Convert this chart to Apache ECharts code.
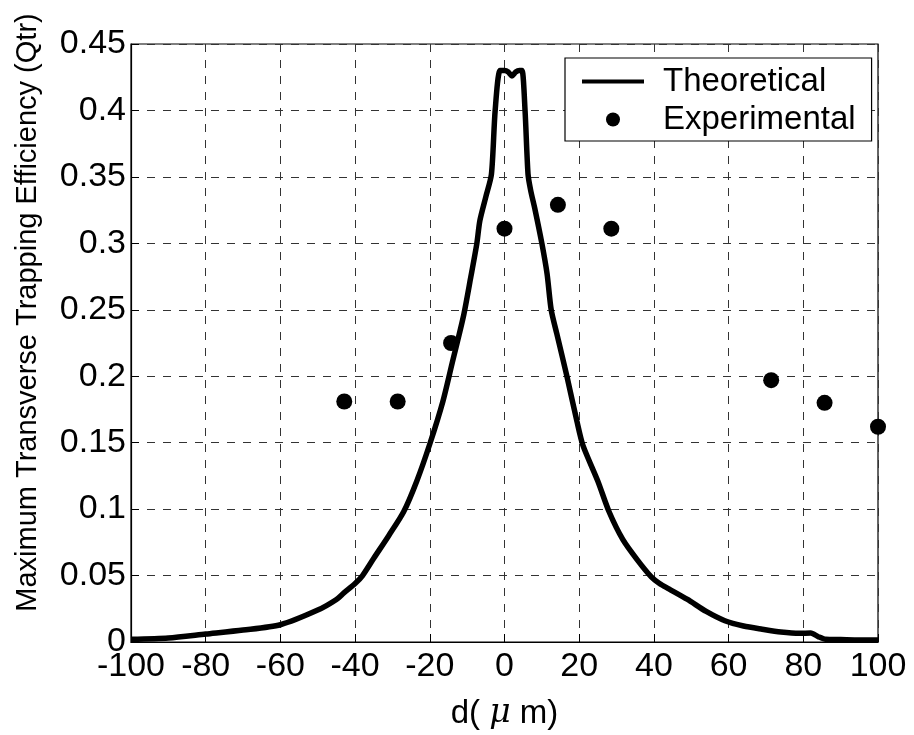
<!DOCTYPE html>
<html>
<head>
<meta charset="utf-8">
<script src="https://cdn.jsdelivr.net/npm/echarts@6/dist/echarts.min.js"></script>
<style>
  html, body { margin: 0; padding: 0; background: #fff; }
  #main { width: 914px; height: 735px; }
</style>
</head>
<body>
<div id="main"></div>
<script>
// theoretical curve
var theoX = [-100, -90, -80, -70, -60, -50, -45, -43, -40, -38, -35, -31, -27, -23.5, -20, -16.5, -14, -11, -9, -7.4, -6.6, -5, -3.5, -2.5, -1.2,
  0, 1, 2, 3, 4, 4.7, 5.5, 6.3, 7, 8.2, 10, 11.4, 12.5, 14, 16.7, 19.4, 21, 25, 28, 31.7, 35.5, 39.3, 41.5, 44, 49, 54, 59, 64, 69, 74, 79, 82, 84, 86, 90, 95, 100];
var theoY = [0.002, 0.003, 0.006, 0.009, 0.013, 0.024, 0.032, 0.037, 0.044, 0.05, 0.063, 0.08, 0.098, 0.121, 0.149, 0.181, 0.21, 0.245, 0.275, 0.3, 0.317, 0.335, 0.352, 0.4, 0.43,
  0.43, 0.429, 0.426, 0.429, 0.43, 0.43, 0.4, 0.352, 0.34, 0.325, 0.3, 0.277, 0.25, 0.232, 0.2, 0.166, 0.148, 0.121, 0.098, 0.077, 0.062, 0.049, 0.044, 0.04, 0.032, 0.023, 0.016, 0.012, 0.0096, 0.0075, 0.0065, 0.0068, 0.004, 0.002, 0.0018, 0.0015, 0.0015];

// experimental points
var expX = [-42.9, -28.6, -14.3, 0, 14.3, 28.6, 71.4, 85.7, 100];
var expY = [0.181, 0.181, 0.225, 0.311, 0.329, 0.311, 0.197, 0.180, 0.162];

var theoData = [];
for (var i = 0; i < theoX.length; i++) {
    theoData.push([theoX[i], theoY[i]]);
}
var expData = [];
for (var j = 0; j < expX.length; j++) {
    expData.push([expX[j], expY[j]]);
}

var FONT = '"Liberation Sans", Arial, sans-serif';
var oChart = echarts.init(document.getElementById('main'));

var opt = {
    backgroundColor: '#fff',
    animation: false,
    textStyle: { fontFamily: FONT },
    grid: {
        show: true,
        left: 131,
        right: 36,
        top: 44,
        bottom: 84,
        borderColor: '#000',
        borderWidth: 1.2
    },
    legend: {
        orient: 'vertical',
        left: 565,
        top: 58,
        padding: [7, 16, 5, 17],
        itemGap: 5,
        itemWidth: 62,
        itemHeight: 14,
        backgroundColor: '#fff',
        borderColor: '#000',
        borderWidth: 1.2,
        textStyle: { fontSize: 33, color: '#000', fontFamily: FONT, padding: [0, 0, 0, 14] },
        data: [
            { name: 'Theoretical', icon: 'path://M0,0 L62,0 L62,4 L0,4 Z' },
            { name: 'Experimental', icon: 'circle' }
        ]
    },
    xAxis: {
        type: 'value',
        min: -100,
        max: 100,
        interval: 20,
        name: 'd( {mu|μ} m)',
        nameLocation: 'middle',
        nameGap: 55,
        nameTextStyle: {
            fontSize: 33, color: '#000', fontFamily: FONT,
            rich: { mu: { fontSize: 33, fontStyle: 'italic', fontFamily: '"DejaVu Serif", serif', color: '#000' } }
        },
        axisLine: { onZero: false, lineStyle: { color: '#000', width: 1.2 } },
        axisTick: { inside: true, length: 8, lineStyle: { color: '#000' } },
        axisLabel: { fontSize: 34, color: '#000', margin: 8 },
        splitLine: { show: true, lineStyle: { color: '#333', type: [8, 8], width: 1 } }
    },
    yAxis: {
        type: 'value',
        min: 0,
        max: 0.45,
        interval: 0.05,
        name: 'Maximum Transverse Trapping Efficiency (Qtr)',
        nameLocation: 'middle',
        nameGap: 89,
        nameTextStyle: { fontSize: 29, color: '#000', fontFamily: FONT, padding: [0, 0, 0, 61] },
        axisLine: { onZero: false, lineStyle: { color: '#000', width: 1.2 } },
        axisTick: { inside: true, length: 8, lineStyle: { color: '#000' } },
        axisLabel: { fontSize: 34, color: '#000', margin: 5 },
        splitLine: { show: true, lineStyle: { color: '#333', type: [8, 8], width: 1 } }
    },
    series: [
        {
            name: 'Theoretical',
            type: 'line',
            data: theoData,
            showSymbol: false,
            symbol: 'none',
            smooth: 0.25,
            lineStyle: { color: '#000', width: 5.5 },
            itemStyle: { color: '#000' },
            z: 3
        },
        {
            name: 'Experimental',
            type: 'scatter',
            data: expData,
            symbol: 'circle',
            symbolSize: 16,
            itemStyle: { color: '#000', opacity: 1 },
            z: 4
        }
    ]
};
oChart.setOption(opt);
</script>
</body>
</html>
